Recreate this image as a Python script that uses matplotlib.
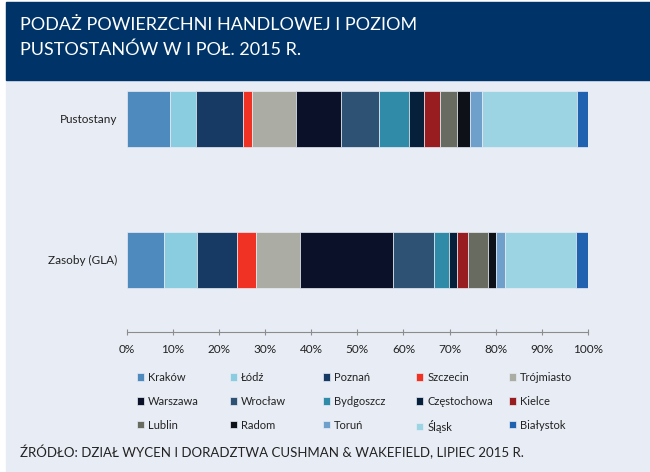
import numpy as np
import matplotlib.pyplot as plt
from matplotlib.patches import Rectangle

plt.rcParams['font.family'] = ['Lato', 'DejaVu Sans']

# cities, in stacking order (left to right)
cities = ['Kraków', 'Łódź', 'Poznań', 'Szczecin', 'Trójmiasto',
          'Warszawa', 'Wrocław', 'Bydgoszcz', 'Częstochowa', 'Kielce',
          'Lublin', 'Radom', 'Toruń', 'Śląsk', 'Białystok']
colors = ['#4f8abe', '#8acde0', '#163a64', '#f03224', '#abada5',
          '#0b1129', '#2d5274', '#2f8ba8', '#06203c', '#981d20',
          '#686b60', '#0f1119', '#6f9fcb', '#9dd4e3', '#2062b0']

# share of each city, %
vacancy = [9.4, 5.7, 10.2, 1.9, 9.6, 9.7, 8.2, 6.4, 3.3, 3.6, 3.5, 2.9, 2.6, 20.6, 2.4]
stock = [8.0, 7.3, 8.7, 4.0, 9.6, 20.1, 8.9, 3.2, 1.9, 2.2, 4.4, 1.8, 1.9, 15.5, 2.5]

rows = ['Zasoby (GLA)', 'Pustostany']
xticks = np.arange(0, 101, 10)

W, H = 650, 472
fig = plt.figure(figsize=(W / 100, H / 100), dpi=100)
fig.patch.set_facecolor('white')

# light panel + navy title banner
fig.patches.append(Rectangle((6 / W, 0), 1, 470 / H, transform=fig.transFigure,
                             color='#e8ecf4', zorder=-10))
fig.patches.append(Rectangle((6 / W, 1 - 80 / H), 1, 78 / H, transform=fig.transFigure,
                             color='#003468', zorder=-9))
fig.text(20 / W, 1 - 30 / H, 'PODAŻ POWIERZCHNI HANDLOWEJ I POZIOM', color='white',
         fontsize=13, va='baseline', ha='left')
fig.text(20 / W, 1 - 55 / H, 'PUSTOSTANÓW W I POŁ. 2015 R.', color='white',
         fontsize=13, va='baseline', ha='left')

ax = fig.add_axes([126.7 / W, 140 / H, 461.3 / W, 247 / H])
ax.set_facecolor('none')

left = np.zeros(2)
bars = []
for city, col, v, s in zip(cities, colors, vacancy, stock):
    vals = np.array([s, v])
    b = ax.barh([0, 1], vals, left=left, height=0.397, color=col,
                edgecolor='#e8ecf4', linewidth=0.5, label=city)
    bars.append(b)
    left += vals

ax.set_xlim(0, 100)
ax.set_ylim(-0.511, 1.241)
ax.set_xticks(xticks, [f'{t}%' for t in xticks])
ax.set_yticks([0, 1], rows)
for s in ['top', 'right', 'left']:
    ax.spines[s].set_visible(False)
ax.spines['bottom'].set_color('#8c8c8c')
ax.tick_params(axis='y', length=0, pad=7, labelsize=8.5, labelcolor='#222222')
ax.tick_params(axis='x', direction='inout', length=5, color='#8c8c8c', pad=6,
               labelsize=8.5, labelcolor='#222222')

# legend: 5 columns, filled row by row
for c in range(5):
    hs = [bars[r * 5 + c] for r in range(3)]
    ls = [cities[r * 5 + c] for r in range(3)]
    leg = fig.legend(hs, ls, loc='upper left',
                     bbox_to_anchor=((137 + 93 * c) / W, 1 - 372 / H),
                     frameon=False, fontsize=8, handlelength=0.65, handleheight=0.65,
                     handletextpad=0.35, labelspacing=1.15, borderpad=0,
                     borderaxespad=0, labelcolor='#222222')

fig.text(20 / W, 1 - 452 / H,
         'ŹRÓDŁO: DZIAŁ WYCEN I DORADZTWA CUSHMAN & WAKEFIELD, LIPIEC 2015 R.',
         color='#222222', fontsize=9.5, va='center', ha='left')

fig.savefig('out.png', dpi=100)
